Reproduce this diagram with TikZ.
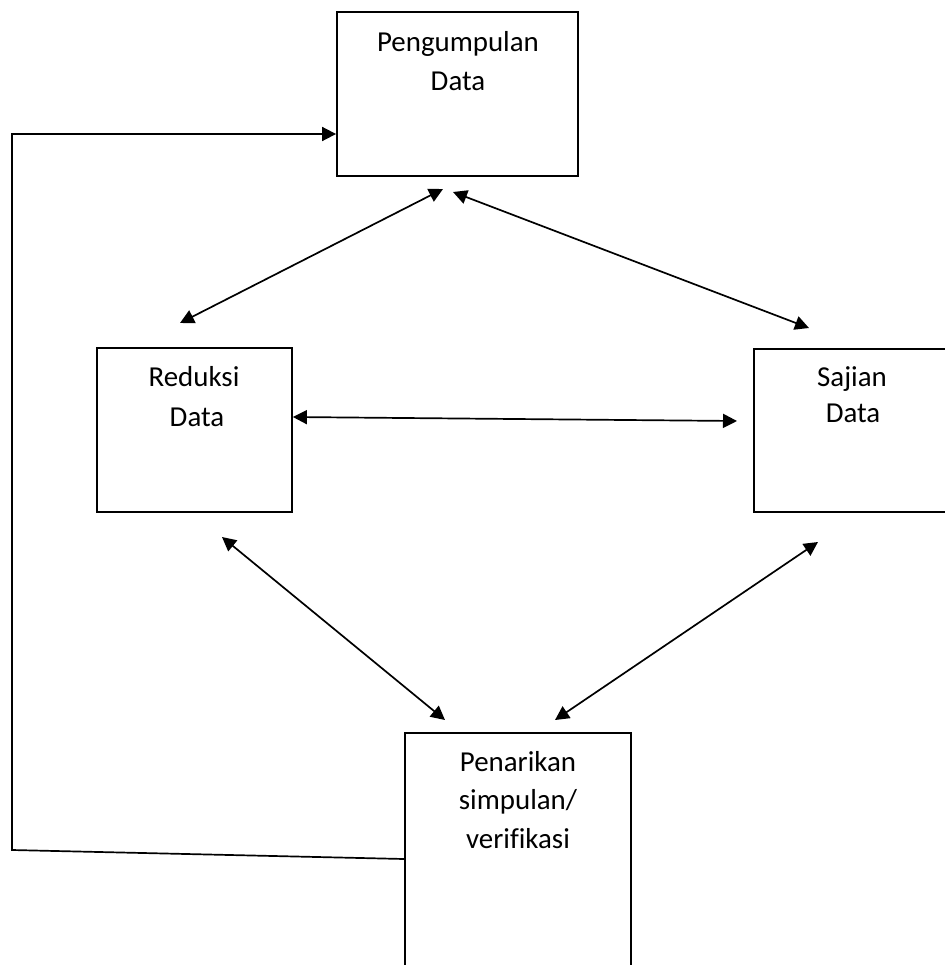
\documentclass[tikz,border=0pt]{standalone}
\usepackage{fontspec}
\setmainfont{Carlito}
\usetikzlibrary{arrows.meta}
\begin{document}
\begin{tikzpicture}[x=1bp,y=-1bp,
  box/.style={draw, line width=1.8bp, inner sep=0pt, rectangle},
  lbl/.style={font=\fontsize{29}{39}\selectfont, anchor=base, inner sep=0pt},
  link/.style={line width=1.7bp, {Triangle[length=14bp,width=14bp]}-{Triangle[length=14bp,width=14bp]}},
  feed/.style={line width=1.7bp, -{Triangle[length=14bp,width=14bp]}}
]
\useasboundingbox (0,0) rectangle (945,965);
% boxes
\node[box, minimum width=241bp, minimum height=164bp] (pd) at (457.5,94) {};
\node[box, minimum width=195bp, minimum height=164bp] (rd) at (194.5,430) {};
\node[box, minimum width=196bp, minimum height=163bp] (sd) at (852,430.5) {};
\node[box, minimum width=226bp, minimum height=267bp] (pk) at (518,866.5) {};
% texts
\node[lbl] (pdt1) at (458,51) {Pengumpulan};
\node[lbl] (pdt2) at (458,90) {Data};
\node[lbl] (rdt1) at (194,386) {Reduksi};
\node[lbl] (rdt2) at (197,426) {Data};
\node[lbl] (sdt1) at (852,386) {Sajian};
\node[lbl] (sdt2) at (853,422) {Data};
\node[lbl] (pkt1) at (518,771) {Penarikan};
\node[lbl] (pkt2) at (518,809) {simpulan/};
\node[lbl] (pkt3) at (518,848) {verif\kern0pt ikasi};
% arrow end points
\coordinate (a1s) at (180,323);
\coordinate (a1e) at (443,189);
\coordinate (a2s) at (453,192);
\coordinate (a2e) at (809,328);
\coordinate (a3e) at (737,421);
\coordinate (a3s) at (0,417);
\coordinate (a4s) at (222,537);
\coordinate (a4e) at (445,720);
\coordinate (a5s) at (818,542);
\coordinate (a5e) at (555,720);
\coordinate (fbs) at (0,859);
\coordinate (fb1) at (12,850);
\coordinate (fb2) at (12,134);
% connectors
\draw[link] (a1s) -- (a1e);
\draw[link] (a2s) -- (a2e);
\draw[link] (rd.east |- a3s) -- (a3e);
\draw[link] (a4s) -- (a4e);
\draw[link] (a5s) -- (a5e);
\draw[feed] (pk.west |- fbs) -- (fb1) -- (fb2) -- (pd.west |- fb2);
\end{tikzpicture}
\end{document}
